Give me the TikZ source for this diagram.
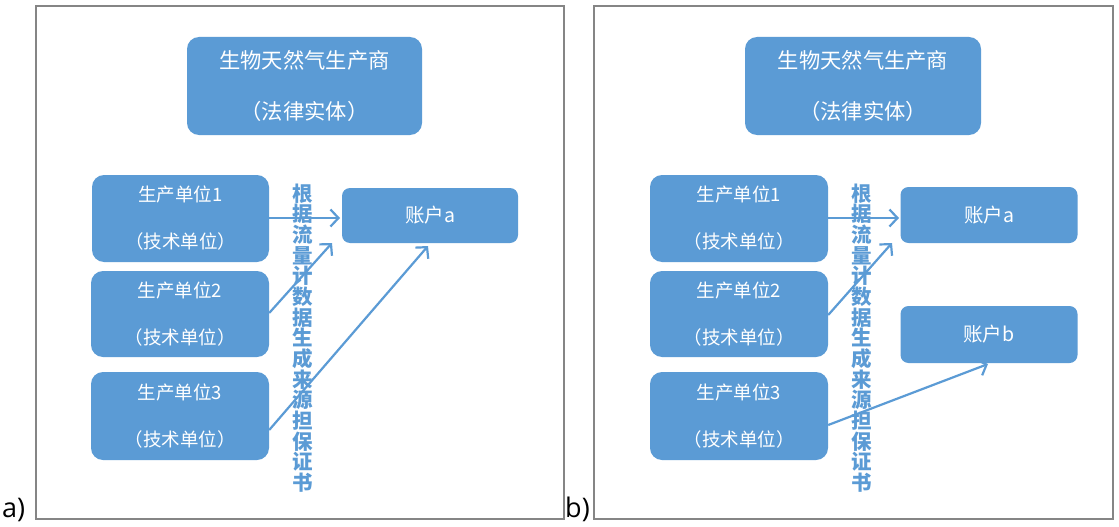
\documentclass[tikz,border=0pt]{standalone}
\usepackage{fontspec}
\setmainfont{Noto Sans CJK SC}
\newfontfamily\labfont{Open Sans}
\usetikzlibrary{arrows.meta}
\definecolor{boxblue}{HTML}{5B9BD5}
\definecolor{framegray}{HTML}{858585}
\tikzset{
  frame/.style={draw=framegray,line width=1.6pt},
  bigbox/.style={fill=boxblue,draw=none,rounded corners=12pt,text=white,align=center,inner sep=0pt},
  unitbox/.style={bigbox,font=\fontsize{18.5}{47}\selectfont},
  topbox/.style={bigbox,font=\fontsize{21.3}{51}\selectfont},
  accbox/.style={fill=boxblue,draw=none,rounded corners=8pt,text=white,font=\fontsize{19.5}{22}\selectfont,inner sep=0pt},
  arr/.style={draw=boxblue,line width=2.2pt,-{Straight Barb[length=8pt,width=17pt,line width=2.2pt]}},
  vtext/.style={text=boxblue,font=\bfseries\fontsize{20.5}{20.65}\selectfont,align=center,inner sep=0pt},
  lab/.style={font=\labfont\fontsize{27}{29}\selectfont,inner sep=0pt,anchor=base west}
}
\begin{document}
\begin{tikzpicture}[x=1pt,y=-1pt]
\useasboundingbox[fill=white] (0,0) rectangle (1119,527);
% frames
\draw[frame] (36,6) rectangle (564,519);
\draw[frame] (594,6) rectangle (1113,519);
\node[lab] (la) at (2,517) {a)};
\node[lab] (lb) at (565,517) {b)};
% ---------- panel a ----------
\node[topbox,minimum width=235pt,minimum height=98pt] (topA) at (304.5,86) {生物天然气生产商\\（法律实体）};
\node[unitbox,minimum width=177pt,minimum height=87pt] (u1A) at (180.5,218.5) {生产单位1\\（技术单位）};
\node[unitbox,minimum width=178pt,minimum height=86pt] (u2A) at (180,314) {生产单位2\\（技术单位）};
\node[unitbox,minimum width=178pt,minimum height=88pt] (u3A) at (180,416) {生产单位3\\（技术单位）};
\node[accbox,minimum width=176pt,minimum height=55pt] (accA) at (430,215.5) {账户a};
\node[vtext] (vA) at (302.5,338) {根\\据\\流\\量\\计\\数\\据\\生\\成\\来\\源\\担\\保\\证\\书};
\coordinate (tA1) at (340,218);
\coordinate (tA2) at (332,243);
\coordinate (tA3) at (428,246);
\draw[arr] (u1A.east |- tA1) -- (tA1);
\draw[arr] ([yshift=1pt]u2A.east) -- (tA2);
\draw[arr] ([yshift=-14pt]u3A.east) -- (tA3);
% ---------- panel b ----------
\node[topbox,minimum width=236pt,minimum height=98pt] (topB) at (863,86) {生物天然气生产商\\（法律实体）};
\node[unitbox,minimum width=178pt,minimum height=87pt] (u1B) at (739,218.5) {生产单位1\\（技术单位）};
\node[unitbox,minimum width=178pt,minimum height=86pt] (u2B) at (739,314) {生产单位2\\（技术单位）};
\node[unitbox,minimum width=178pt,minimum height=88pt] (u3B) at (739,416) {生产单位3\\（技术单位）};
\node[accbox,minimum width=177pt,minimum height=56pt] (accaB) at (989,215) {账户a};
\node[accbox,minimum width=177pt,minimum height=57pt] (accbB) at (989,334.5) {账户b};
\node[vtext] (vB) at (862,338) {根\\据\\流\\量\\计\\数\\据\\生\\成\\来\\源\\担\\保\\证\\书};
\coordinate (tB1) at (899,218);
\coordinate (tB2) at (892,243);
\coordinate (tB3) at (988,364);
\draw[arr] (u1B.east |- tB1) -- (tB1);
\draw[arr] ([yshift=-1pt]u2B.east) -- (tB2);
\draw[arr] ([yshift=-9pt]u3B.east) -- (tB3);
\end{tikzpicture}
\end{document}
